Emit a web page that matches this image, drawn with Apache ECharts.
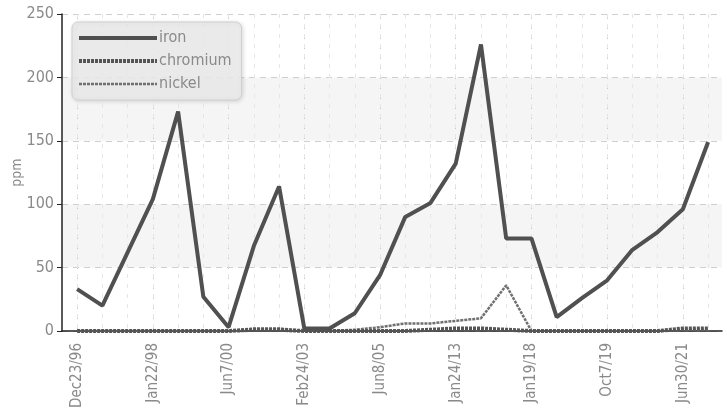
<!DOCTYPE html>
<html><head><meta charset="utf-8">
<script src="https://cdn.jsdelivr.net/npm/echarts@6/dist/echarts.min.js"></script>
<style>html,body{margin:0;padding:0;background:#fff}#c{width:727px;height:413px}</style>
</head><body><div id="c"></div>
<script>
const categories = ['Dec23/96','Jun10/97','Sep15/97','Jan22/98','May4/98','Nov20/99','Jun7/00','Dec1/00','Jun12/01','Feb24/03','Jul8/03','Oct5/04','Jun8/05','Feb14/06','Aug20/08','Jan24/13','Jun1/15','May9/16','Jan19/18','Mar22/18','Nov28/18','Oct7/19','Apr2/20','Nov15/20','Jun30/21','Feb10/22'];
const iron =     [33,20,62,104,173,27,3,67,114,2,2,14,44,90,101,132,226,73,73,11,26,40,64,78,96,149];
const chromium = [0,0,0,0,0,0,0,1,1,0,0,0,0,0,1,2,2,1,0,0,0,0,0,0,2,2];
const nickel =   [0,0,0,0,0,0,0,2,2,0,0,1,3,6,6,8,10,36,0,0,0,0,0,0,1,1];
const labelIdx = [0,3,6,9,12,15,18,21,24];
const yMin = 0, yMax = 250, yStep = 50;

const font = "'Liberation Sans Narrow','DejaVu Sans Condensed','Roboto',sans-serif";
const allIdx = categories.map((c,i)=>i);
const toPairs = arr => arr.map((v,i)=>[i,v]);

const chart = echarts.init(document.getElementById('c'), null, {renderer:'canvas'});
chart.setOption({
  animation:false,
  backgroundColor:'#fff',
  grid:{left:62,right:5,top:14,bottom:82,containLabel:false,outerBoundsMode:'none'},
  legend:{
    left:72, top:22, orient:'vertical', itemWidth:78, itemHeight:14, itemGap:7,
    padding:[8,10,8,5],
    backgroundColor:'rgba(236,236,236,0.85)', borderColor:'#d0d0d0', borderWidth:1, borderRadius:6,
    shadowColor:'rgba(0,0,0,0.15)', shadowBlur:4, shadowOffsetX:1, shadowOffsetY:1,
    textStyle:{color:'#8a8a8a', fontSize:16, fontFamily:font, padding:[0,0,0,-3]},
    itemStyle:{opacity:0},
    data:[
      {name:'iron', lineStyle:{width:4, color:'#505050', type:'solid'}},
      {name:'chromium', lineStyle:{width:4, color:'#555', type:[3,1]}},
      {name:'nickel', lineStyle:{width:2.5, color:'#707070', type:[3,1]}}
    ]
  },
  xAxis:[{
    type:'value', min:-0.6, max:25.55,
    axisLine:{show:true, onZero:false, lineStyle:{color:'#222', width:1.5}},
    axisTick:{show:false, customValues:labelIdx},
    axisLabel:{customValues:labelIdx, rotate:90, margin:12, color:'#8a8a8a', fontSize:15, fontFamily:font,
      formatter:v=>categories[Math.round(v)]},
    splitLine:{show:true, lineStyle:{color:'#c8c8c8', type:[5,5], width:1}}
  },{
    type:'value', min:-0.6, max:25.55, position:'bottom',
    axisLine:{show:false}, axisTick:{show:false, customValues:allIdx},
    axisLabel:{show:false, customValues:allIdx},
    splitLine:{show:true, lineStyle:{color:'#e6e6e6', type:[4,6], width:1}}
  }],
  yAxis:{
    type:'value', min:yMin, max:yMax, interval:yStep,
    name:'ppm', nameLocation:'middle', nameGap:38, nameMoveOverlap:false,
    nameTextStyle:{color:'#8a8a8a', fontSize:14, fontFamily:font},
    axisLine:{show:true, onZero:false, lineStyle:{color:'#222', width:1.5}},
    axisTick:{show:true, length:5, lineStyle:{color:'#222'}},
    axisLabel:{color:'#8a8a8a', fontSize:16, fontFamily:font, margin:8},
    splitLine:{show:true, lineStyle:{color:'#cfcfcf', type:[6,5]}},
    splitArea:{show:true, areaStyle:{color:['rgba(255,255,255,0)','#f5f5f5']}}
  },
  series:[
    {name:'iron', type:'line', data:toPairs(iron), showSymbol:false, symbol:'none', z:5,
      lineStyle:{color:'#505050', width:4}, itemStyle:{color:'#505050'}},
    {name:'chromium', type:'line', data:toPairs(chromium), showSymbol:false, symbol:'none', z:4,
      lineStyle:{color:'#555', width:4, type:[3,1]}, itemStyle:{color:'#555'}},
    {name:'nickel', type:'line', data:toPairs(nickel), showSymbol:false, symbol:'none', z:3,
      lineStyle:{color:'#707070', width:2.5, type:[3,1]}, itemStyle:{color:'#707070'}}
  ]
});
</script></body></html>
